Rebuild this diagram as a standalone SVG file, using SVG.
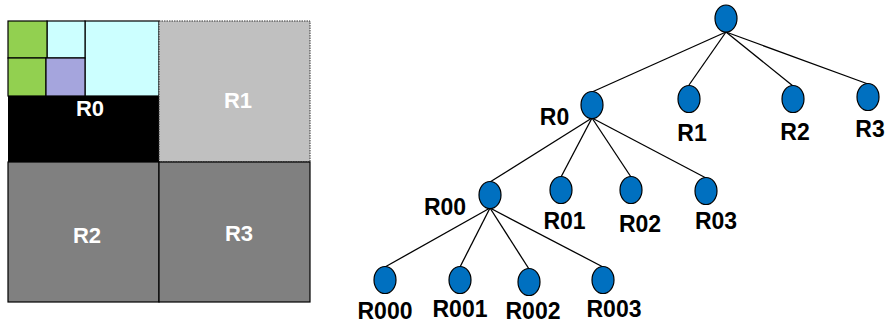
<svg xmlns="http://www.w3.org/2000/svg" width="888" height="324" viewBox="0 0 888 324">
<style>
.lbl{font-family:"Liberation Sans",Arial,sans-serif;font-weight:bold;font-size:22px;text-anchor:middle}
.t{font-size:23px}
.w{fill:#ffffff}
.k{fill:#000000}
.nd{fill:#0070C0;stroke:#000;stroke-width:1.2}
.cell{stroke:#000;stroke-width:1.2}
.edge{stroke:#000;stroke-width:1.3;fill:none}
</style>
<rect width="888" height="324" fill="#ffffff"/>
<g id="quadtree-map">
  <g id="R0-region">
    <rect x="8" y="96" width="151" height="66" fill="#000000"/>
    <rect class="cell" x="85" y="21" width="74" height="75" fill="#CCFFFF"/>
    <rect class="cell" x="47" y="21" width="38" height="37" fill="#CCFFFF"/>
    <rect class="cell" x="8" y="21" width="39" height="37" fill="#92D050"/>
    <rect class="cell" x="8" y="58" width="38" height="38" fill="#92D050"/>
    <rect class="cell" x="46" y="58" width="39" height="38" fill="#A5A5DD"/>
    <text class="lbl w" x="90" y="116">R0</text>
  </g>
  <g id="R1-region">
    <rect x="159" y="21" width="151" height="141" fill="#C0C0C0" stroke="#333" stroke-width="1" stroke-dasharray="1.5 1"/>
    <text class="lbl w" x="238" y="108">R1</text>
  </g>
  <g id="R2-region">
    <rect x="8" y="162" width="151" height="140" fill="#808080" stroke="#000" stroke-width="1.2"/>
    <text class="lbl w" x="87" y="243">R2</text>
  </g>
  <g id="R3-region">
    <rect x="159" y="162" width="151" height="140" fill="#808080" stroke="#000" stroke-width="1.2"/>
    <text class="lbl w" x="239" y="241">R3</text>
  </g>
</g>
<g id="connectors">
  <line class="edge" x1="726" y1="32" x2="592" y2="92"/>
  <line class="edge" x1="726" y1="32" x2="689" y2="85"/>
  <line class="edge" x1="726" y1="32" x2="793" y2="86"/>
  <line class="edge" x1="726" y1="32" x2="868" y2="84"/>
  <line class="edge" x1="592" y1="118" x2="490" y2="182"/>
  <line class="edge" x1="592" y1="118" x2="561" y2="177"/>
  <line class="edge" x1="592" y1="118" x2="631" y2="177"/>
  <line class="edge" x1="592" y1="118" x2="706" y2="178"/>
  <line class="edge" x1="490" y1="208" x2="385" y2="267"/>
  <line class="edge" x1="490" y1="208" x2="460" y2="267"/>
  <line class="edge" x1="490" y1="208" x2="529" y2="269"/>
  <line class="edge" x1="490" y1="208" x2="603" y2="267"/>
</g>
<g id="root"><ellipse class="nd" cx="726" cy="18.5" rx="11" ry="13.5"/></g>
<g id="R0"><ellipse class="nd" cx="592" cy="105" rx="11" ry="13.5"/><text class="lbl t k" x="554.5" y="125">R0</text></g>
<g id="R1"><ellipse class="nd" cx="689" cy="99" rx="11" ry="13.5"/><text class="lbl t k" x="692" y="141">R1</text></g>
<g id="R2"><ellipse class="nd" cx="793" cy="99" rx="11" ry="13.5"/><text class="lbl t k" x="795" y="140">R2</text></g>
<g id="R3"><ellipse class="nd" cx="868" cy="97" rx="11" ry="13.5"/><text class="lbl t k" x="870" y="137">R3</text></g>
<g id="R00"><ellipse class="nd" cx="490" cy="195" rx="11" ry="13.5"/><text class="lbl t k" x="445" y="215">R00</text></g>
<g id="R01"><ellipse class="nd" cx="561" cy="190" rx="11" ry="13.5"/><text class="lbl t k" x="564.5" y="229">R01</text></g>
<g id="R02"><ellipse class="nd" cx="631" cy="190" rx="11" ry="13.5"/><text class="lbl t k" x="640" y="232">R02</text></g>
<g id="R03"><ellipse class="nd" cx="706" cy="191" rx="11" ry="13.5"/><text class="lbl t k" x="716" y="229">R03</text></g>
<g id="R000"><ellipse class="nd" cx="385" cy="280" rx="11" ry="13.5"/><text class="lbl t k" x="385" y="319">R000</text></g>
<g id="R001"><ellipse class="nd" cx="460" cy="280" rx="11" ry="13.5"/><text class="lbl t k" x="460" y="317">R001</text></g>
<g id="R002"><ellipse class="nd" cx="529" cy="282" rx="11" ry="13.5"/><text class="lbl t k" x="533" y="319">R002</text></g>
<g id="R003"><ellipse class="nd" cx="603" cy="280" rx="11" ry="13.5"/><text class="lbl t k" x="614" y="317">R003</text></g>
</svg>
